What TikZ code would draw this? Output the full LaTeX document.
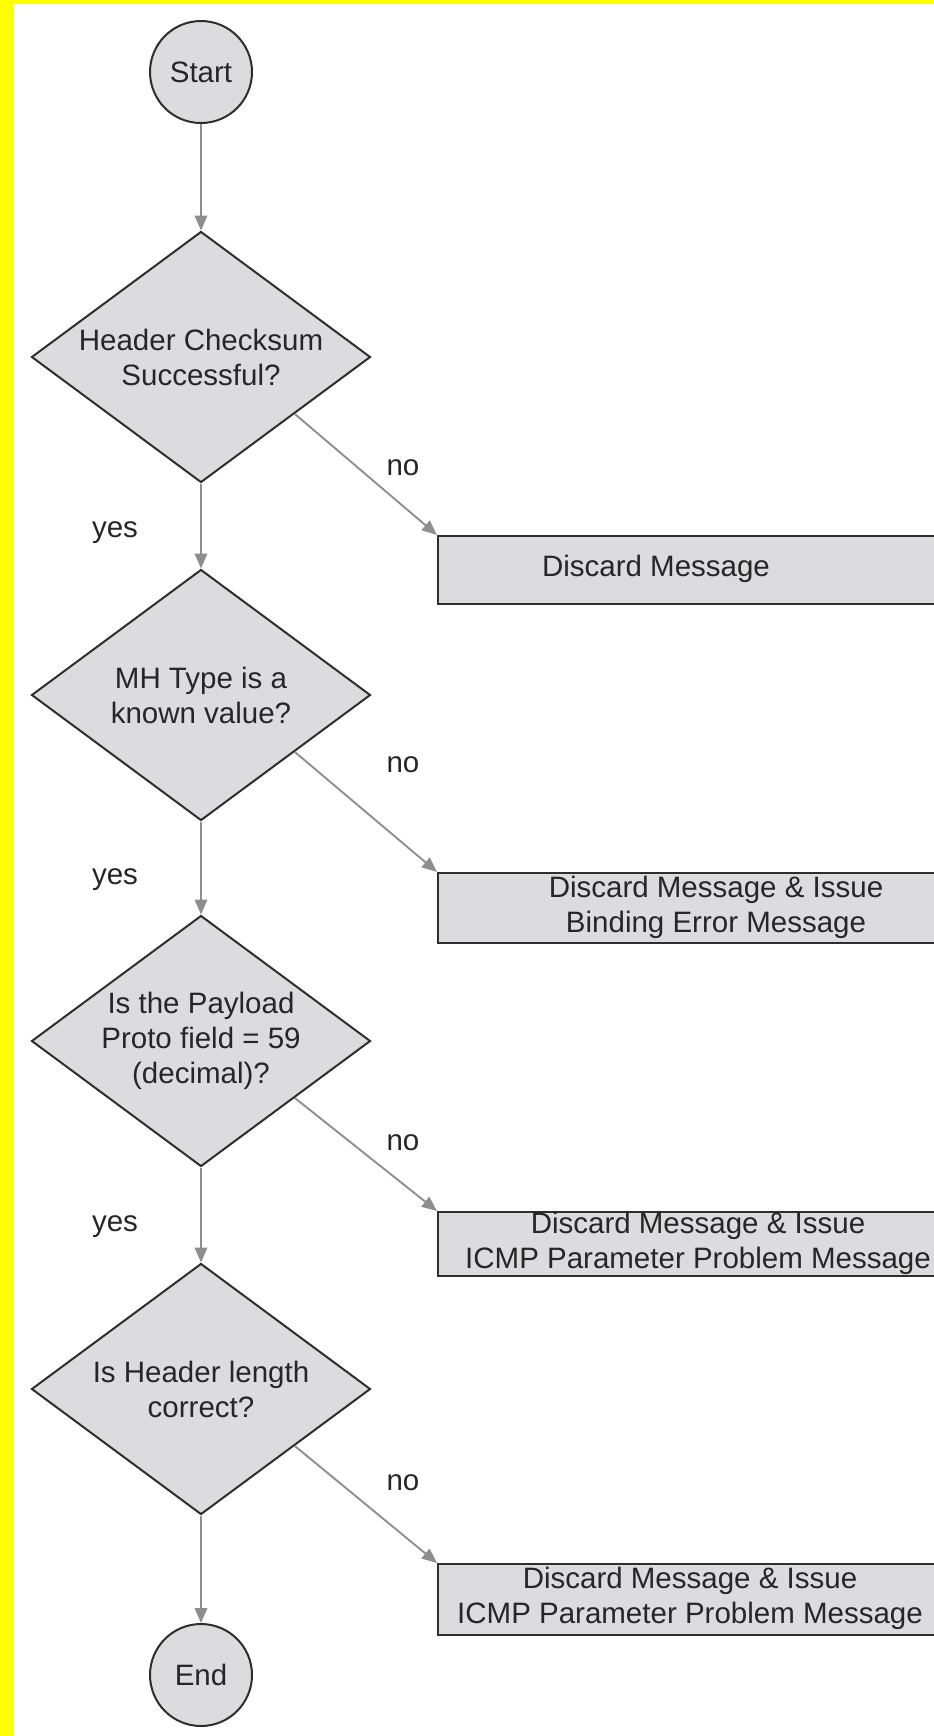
\documentclass[tikz,border=0pt]{standalone}
\usepackage{fontspec}
\setmainfont{Liberation Sans}
\usetikzlibrary{shapes.geometric,arrows.meta,calc}
\definecolor{fillg}{RGB}{220,220,222}
\definecolor{edge}{RGB}{46,46,46}
\definecolor{arr}{RGB}{142,142,142}
\definecolor{txt}{RGB}{38,38,38}
\definecolor{hilite}{RGB}{255,255,0}
\begin{document}
\begin{tikzpicture}[x=0.4pt,y=-0.4pt,
  every node/.style={font=\fontsize{11.8pt}{14pt}\selectfont, text=txt},
  term/.style={circle, draw=edge, fill=fillg, line width=0.8pt, minimum size=40.8pt, inner sep=0pt},
  decision/.style={diamond, draw=edge, fill=fillg, line width=0.8pt, minimum width=135.6pt, minimum height=100.4pt, aspect=1.35, inner sep=0pt, align=center},
  actbox/.style={rectangle, draw=edge, fill=fillg, line width=0.8pt, minimum width=225.2pt, anchor=north west, inner sep=0pt},
  boxtext/.style={align=center, inner sep=0pt},
  flow/.style={draw=arr, line width=0.75pt, -{Triangle[length=6pt,width=5pt]}},
  lbl/.style={inner sep=0pt}
]
\useasboundingbox (0,0) rectangle (934,1736);
\fill[white] (0,0) rectangle (934,1736);
\fill[fill=hilite] (0,0) rectangle (14,1736);
\fill[fill=hilite] (0,0) rectangle (934,4);
\clip (14,4) rectangle (934,1736);

% terminals and decisions
\node[term] (start) at (201,72) {Start};
\node[decision] (d1) at (201,357) {Header Checksum\\Successful?};
\node[decision] (d2) at (201,695) {MH Type is a\\known value?};
\node[decision] (d3) at (201,1041) {Is the Payload\\Proto field = 59\\(decimal)?};
\node[decision] (d4) at (201,1389) {Is Header length\\correct?};
\node[term] (end) at (201,1675) {End};

% action boxes
\node[actbox, minimum height=27.2pt] (b1) at (437,535) {};
\node[actbox, minimum height=28pt] (b2) at (437,872) {};
\node[actbox, minimum height=25.6pt] (b3) at (437,1211) {};
\node[actbox, minimum height=28.4pt] (b4) at (437,1563) {};
\node[boxtext] (t1) at (656,569) {Discard Message};
\node[boxtext] (t2) at (716,907) {Discard Message \& Issue\\Binding Error Message};
\node[boxtext] (t3) at (698,1243) {Discard Message \& Issue\\ICMP Parameter Problem Message};
\node[boxtext] (t4) at (690,1598) {Discard Message \& Issue\\ICMP Parameter Problem Message};

% main flow
\draw[flow] (start.south) -- (d1.north);
\draw[flow] (d1.south) -- (d2.north);
\draw[flow] (d2.south) -- (d3.north);
\draw[flow] (d3.south) -- (d4.north);
\draw[flow] (d4.south) -- (end.north);

% no branches
\draw[flow] ($(d1.east)!0.45!(d1.south)$) -- (b1.north west);
\draw[flow] ($(d2.east)!0.45!(d2.south)$) -- (b2.north west);
\draw[flow] ($(d3.east)!0.45!(d3.south)$) -- (b3.north west);
\draw[flow] ($(d4.east)!0.45!(d4.south)$) -- (b4.north west);

% labels
\node[lbl] (no1) at (403,468) {no};
\node[lbl] (no2) at (403,765) {no};
\node[lbl] (no3) at (403,1143) {no};
\node[lbl] (no4) at (403,1483) {no};
\node[lbl] (yes1) at (115,533) {yes};
\node[lbl] (yes2) at (115,880) {yes};
\node[lbl] (yes3) at (115,1227) {yes};
\end{tikzpicture}
\end{document}
